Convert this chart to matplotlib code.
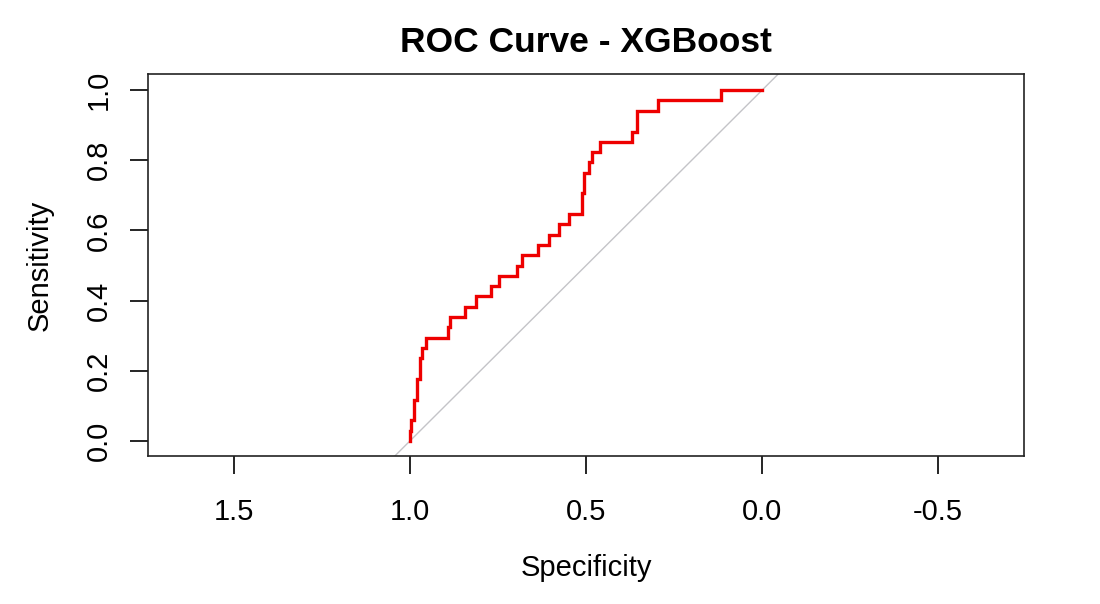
import numpy as np
import matplotlib.pyplot as plt
from matplotlib.ticker import FuncFormatter

plt.rcParams['font.family'] = ['Liberation Sans', 'DejaVu Sans']

# ROC curve vertices (specificity, sensitivity)
specificity = [1.0, 1.0, 0.997, 0.997, 0.989, 0.989, 0.981, 0.981, 0.972, 0.972,
               0.966, 0.966, 0.955, 0.955, 0.891, 0.891, 0.886, 0.886, 0.844, 0.844,
               0.8125, 0.8125, 0.771, 0.771, 0.746, 0.746, 0.695, 0.695, 0.681, 0.681,
               0.637, 0.637, 0.604, 0.604, 0.577, 0.577, 0.547, 0.547, 0.511, 0.511,
               0.506, 0.506, 0.491, 0.491, 0.482, 0.482, 0.460, 0.460, 0.370, 0.370,
               0.354, 0.354, 0.297, 0.297, 0.116, 0.116, 0.0]
sensitivity = [0.0, 0.029, 0.029, 0.059, 0.059, 0.118, 0.118, 0.176, 0.176, 0.235,
               0.235, 0.265, 0.265, 0.294, 0.294, 0.324, 0.324, 0.353, 0.353, 0.382,
               0.382, 0.412, 0.412, 0.441, 0.441, 0.471, 0.471, 0.500, 0.500, 0.529,
               0.529, 0.559, 0.559, 0.588, 0.588, 0.618, 0.618, 0.647, 0.647, 0.706,
               0.706, 0.765, 0.765, 0.794, 0.794, 0.824, 0.824, 0.853, 0.853, 0.882,
               0.882, 0.941, 0.941, 0.971, 0.971, 1.0, 1.0]

x_ticks = [1.5, 1.0, 0.5, 0.0, -0.5]
y_ticks = [0.0, 0.2, 0.4, 0.6, 0.8, 1.0]

fig = plt.figure(figsize=(11, 6.04), dpi=100)
ax = fig.add_axes([0.1345, 0.245, 0.7965, 0.6325])

ax.axline((1.0, 0.0), (0.0, 1.0), color='#c4c4c8', linewidth=1.0, zorder=1)
ax.plot(specificity, sensitivity, color='#ee0000', linewidth=2.4, zorder=2,
        solid_joinstyle='miter')

ax.set_xlim(1.744, -0.744)
ax.set_ylim(-0.043, 1.046)
ax.set_xticks(x_ticks)
ax.set_yticks(y_ticks)
fmt = FuncFormatter(lambda v, p: f'{v:.1f}'.replace('\u2212', '-'))
ax.xaxis.set_major_formatter(fmt)
ax.yaxis.set_major_formatter(fmt)
ax.tick_params(axis='both', length=13, width=1.2, labelsize=21, direction='out')
ax.tick_params(axis='x', pad=17)
ax.tick_params(axis='y', pad=12)
for lbl in ax.get_yticklabels():
    lbl.set_rotation(90)
    lbl.set_va('center')
for s in ax.spines.values():
    s.set_linewidth(1.2)
    s.set_color('#222222')

cx = 586 / 1100
fig.text(cx, 1 - 568 / 604, 'Specificity', fontsize=21, ha='center', va='center')
fig.text(40 / 1100, 1 - 265 / 604, 'Sensitivity', fontsize=21, ha='center', va='center',
         rotation=90)
fig.text(cx, 1 - 52 / 604, 'ROC Curve - XGBoost', fontsize=25.5, fontweight='bold',
         ha='center', va='baseline')

fig.savefig('out.png', dpi=100, facecolor='white')
